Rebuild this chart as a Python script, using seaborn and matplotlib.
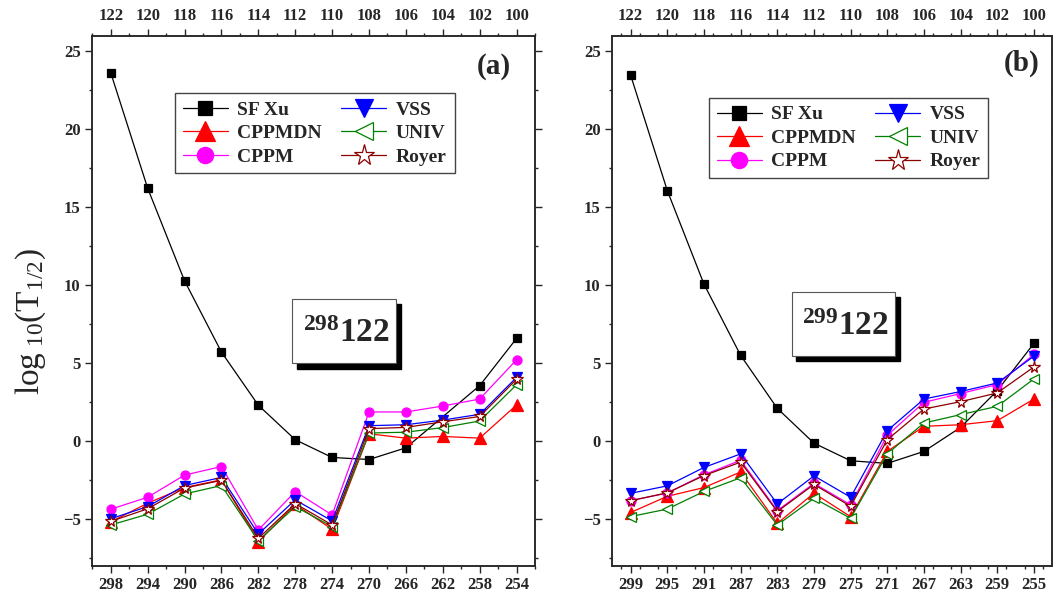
import matplotlib
matplotlib.use('Agg')
import matplotlib.pyplot as plt
from matplotlib.patches import Rectangle
from matplotlib.ticker import MultipleLocator, FixedLocator
import seaborn as sns

# ── data ─────────────────────────────────────────────────
A_a = [298, 294, 290, 286, 282, 278, 274, 270, 266, 262, 258, 254]
A_b = [299, 295, 291, 287, 283, 279, 275, 271, 267, 263, 259, 255]
Z = [122, 120, 118, 116, 114, 112, 110, 108, 106, 104, 102, 100]

# panel (a) 298-122 chain (SF Xu has no point at A=262)
sfxu_A_a = [298, 294, 290, 286, 282, 278, 274, 270, 266, 258, 254]
sfxu_a   = [23.6, 16.2, 10.26, 5.69, 2.28, 0.07, -1.07, -1.2, -0.45, 3.54, 6.57]
cppmdn_a = [-5.2, -4.0, -3.0, -2.5, -6.47, -4.08, -5.68, 0.45, 0.17, 0.28, 0.17, 2.3]
cppm_a   = [-4.39, -3.62, -2.2, -1.65, -5.72, -3.26, -4.76, 1.85, 1.85, 2.23, 2.68, 5.2]
vss_a    = [-5.0, -4.22, -2.87, -2.35, -5.98, -3.79, -5.14, 0.97, 1.03, 1.33, 1.7, 4.07]
univ_a   = [-5.4, -4.71, -3.41, -2.87, -6.41, -4.22, -5.51, 0.5, 0.55, 0.85, 1.27, 3.6]
royer_a  = [-5.17, -4.36, -3.03, -2.54, -6.26, -4.03, -5.4, 0.78, 0.86, 1.22, 1.56, 3.95]

# panel (b) 299-122 chain
sfxu_b   = [23.45, 16.05, 10.05, 5.48, 2.08, -0.15, -1.28, -1.45, -0.68, 0.86, 3.22, 6.25]
cppmdn_b = [-4.6, -3.56, -3.0, -2.0, -5.3, -3.36, -4.87, -0.68, 0.93, 1.03, 1.29, 2.68]
cppm_b   = [-3.84, -3.35, -2.18, -1.25, -4.48, -2.73, -4.11, 0.35, 2.47, 3.03, 3.61, 5.54]
vss_b    = [-3.37, -2.89, -1.71, -0.84, -4.05, -2.25, -3.62, 0.65, 2.68, 3.16, 3.71, 5.43]
univ_b   = [-4.86, -4.38, -3.25, -2.37, -5.4, -3.69, -4.97, -0.83, 1.14, 1.68, 2.21, 3.97]
royer_b  = [-3.84, -3.34, -2.23, -1.37, -4.54, -2.8, -4.2, 0.07, 2.04, 2.51, 3.07, 4.74]

sns.set_style('ticks')
plt.rcParams.update({'font.family': ['Liberation Serif', 'DejaVu Serif'],
                     'font.weight': 'bold',
                     'mathtext.fontset': 'custom',
                     'mathtext.rm': 'Liberation Serif:weight=normal',
                     'mathtext.it': 'Liberation Serif:italic:weight=normal',
                     'mathtext.bf': 'Liberation Serif:weight=bold',
                     'axes.linewidth': 1.1})

STY = {
    'SF Xu':  dict(color='black', marker='s', markersize=5.5, markerfacecolor='black', markeredgecolor='black'),
    'CPPMDN': dict(color='#FF0000', marker='^', markersize=8, markerfacecolor='#FF0000', markeredgecolor='#FF0000'),
    'CPPM':   dict(color='#FF00FF', marker='o', markersize=6.5, markerfacecolor='#FF00FF', markeredgecolor='#FF00FF'),
    'VSS':    dict(color='#0000FF', marker='v', markersize=7.5, markerfacecolor='#0000FF', markeredgecolor='#0000FF'),
    'UNIV':   dict(color='#008000', marker='<', markersize=7.5, markerfacecolor='white', markeredgecolor='#008000'),
    'Royer':  dict(color='#8B0000', marker='*', markersize=8.5, markerfacecolor='white', markeredgecolor='#8B0000'),
}

fig = plt.figure(figsize=(10.53, 6), dpi=100)
ax_a = fig.add_axes([0.0877, 0.0575, 0.4204, 0.8833])
ax_b = fig.add_axes([0.5815, 0.0575, 0.4178, 0.8833])

panels = [
    (ax_a, A_a, sfxu_A_a, [sfxu_a, cppmdn_a, cppm_a, vss_a, univ_a, royer_a],
     (300, 252), '(a)', (0.907, 0.942), '298', (0.568, 0.442), (0.187, 0.891)),
    (ax_b, A_b, A_b, [sfxu_b, cppmdn_b, cppm_b, vss_b, univ_b, royer_b],
     (301, 253), '(b)', (0.93, 0.947), '299', (0.525, 0.456), (0.22, 0.882)),
]

for ax, A, sfA, series, xl, tag, tagpos, mass, boxc, legpos in panels:
    for name, vals in zip(STY, series):
        xs = sfA if name == 'SF Xu' else A
        sns.lineplot(x=xs, y=vals, ax=ax, errorbar=None, sort=False, label=name,
                     linewidth=0.9, markeredgewidth=0.9, **STY[name])

    ax.set_xlim(*xl)
    ax.set_ylim(-8, 26)
    ax.xaxis.set_major_locator(FixedLocator(A))
    ax.xaxis.set_minor_locator(MultipleLocator(2))
    ax.yaxis.set_major_locator(MultipleLocator(5))
    ax.yaxis.set_minor_locator(MultipleLocator(2.5))
    ax.set_xticklabels([str(a) for a in A])
    ax.tick_params(which='both', direction='out', right=True, labelsize=12, width=1)
    ax.tick_params(which='major', length=5)
    ax.tick_params(which='minor', length=2.5)
    ax.set_xlabel('')
    ax.set_ylabel('')

    top = ax.twiny()
    top.set_xlim(*xl)
    top.xaxis.set_major_locator(FixedLocator(A))
    top.xaxis.set_minor_locator(MultipleLocator(2))
    top.set_xticklabels([str(z) for z in Z])
    top.tick_params(which='both', direction='out', labelsize=12, width=1)
    top.tick_params(which='major', length=5)
    top.tick_params(which='minor', length=2.5)

    ax.text(tagpos[0], tagpos[1], tag, transform=ax.transAxes, ha='center', va='center',
            fontsize=21, fontweight='bold')

    # nucleus label box with shadow
    bw, bh = 0.235, 0.121
    ax.add_patch(Rectangle((boxc[0] - bw / 2 + 0.011, boxc[1] - bh / 2 - 0.010), bw, bh,
                           transform=ax.transAxes, facecolor='black', edgecolor='black', zorder=5))
    ax.add_patch(Rectangle((boxc[0] - bw / 2, boxc[1] - bh / 2), bw, bh,
                           transform=ax.transAxes, facecolor='white', edgecolor='#555555',
                           linewidth=0.8, zorder=6))
    ax.text(boxc[0] + 0.005, boxc[1] - 0.005, r'${}^{\mathbf{%s}}\mathbf{122}$' % mass,
            transform=ax.transAxes, ha='center', va='center', fontsize=24, zorder=7)

    h, l = ax.get_legend_handles_labels()
    leg = ax.legend(h, l, ncol=2, loc='upper left', bbox_to_anchor=legpos,
                    prop={'family': 'Liberation Serif', 'weight': 'bold', 'size': 14},
                    frameon=True, fancybox=False, framealpha=1, edgecolor='#444444',
                    handlelength=2.3, markerscale=1.8, columnspacing=1.0,
                    labelspacing=0.3, borderpad=0.4, handletextpad=0.5, borderaxespad=0)
    leg.get_frame().set_linewidth(1.0)

ax_a.set_ylabel(r'$\mathrm{log}_{\ 10}(\mathrm{T}_{1/2})$', fontsize=24)
ax_a.yaxis.set_label_coords(-0.10, 0.46)

fig.savefig('out.png', dpi=100)
